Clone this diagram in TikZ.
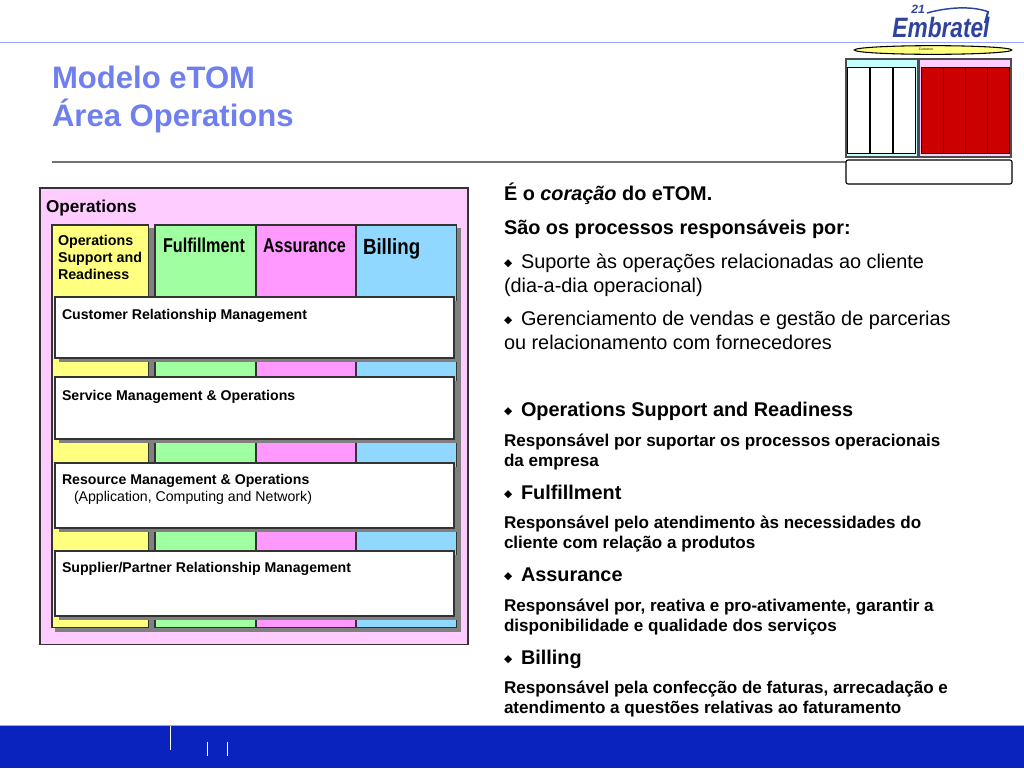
\documentclass[tikz,border=0pt]{standalone}
\usepackage{fontspec}
\setmainfont{Liberation Sans}
\newfontfamily\symfont{DejaVu Sans}
\usepackage{tikz}
\usetikzlibrary{
positioning,
shapes.geometric,
}
\definecolor{titleblue}{HTML}{6F7FEE}
\definecolor{bandblue}{HTML}{0A22BE}
\definecolor{logoblue}{HTML}{2F429F}
\definecolor{areapink}{HTML}{FFCCFF}
\definecolor{colyellow}{HTML}{FFFF80}
\definecolor{colgreen}{HTML}{A0FFA0}
\definecolor{colmagenta}{HTML}{FF99FF}
\definecolor{colblue}{HTML}{90D8FF}
\definecolor{thumbcyan}{HTML}{C4FFFF}
\definecolor{thumbred}{HTML}{CC0000}
\tikzset{
x=0.75pt, y=-0.75pt,
every node/.style={inner sep=0pt, outer sep=0pt},
box/.style={draw=#1, line width=0.8pt, anchor=north west},
box/.default=black!80,
column/.style={box, fill=#1},
bar/.style={box, fill=white, minimum width=299.25pt},
barlabel/.style={anchor=base west, font=\fontsize{10.6}{12}\selectfont\bfseries, align=left},
headlabel/.style={anchor=base west, xscale=0.81, font=\fontsize{15}{18}\selectfont\bfseries},
body/.style={anchor=base west, font=\fontsize{14.9}{17.6}\selectfont, align=left},
bodybold/.style={anchor=base west, font=\fontsize{12.8}{15}\selectfont\bfseries, align=left},
lead/.style={anchor=base west, font=\fontsize{14.9}{17}\selectfont\bfseries},
thumbcol/.style={draw=black, line width=0.7pt, anchor=north west, minimum height=64.5pt, minimum width=16.5pt},
}
\newcommand{\bul}{\makebox[12.75pt][l]{\raisebox{1.5pt}{\symfont\fontsize{8}{8}\selectfont ◆}}}
\begin{document}
\begin{tikzpicture}
\useasboundingbox (0,0) rectangle (1024,768);
% page rules and band
\fill [bandblue] (0,725) rectangle (1024,768);
\draw [color=titleblue!70, line width=0.75pt] (0,725) -- (1024,725);
\draw [color=titleblue!70, line width=0.75pt] (0,42.5) -- (1024,42.5);
\draw [color=black!55, line width=0.8pt] (52,162) -- (846,162);
\draw [white, line width=0.75pt] (170.5,726) -- (170.5,750);
\draw [white, line width=0.75pt] (207.5,742) -- (207.5,756);
\draw [white, line width=0.75pt] (227,742) -- (227,756);
% title
\node (title) [anchor=base west, text=titleblue, font=\fontsize{23.3}{28.5}\selectfont\bfseries, align=left] at (52,126) {Modelo eTOM\\Área Operations};
% logo
\node (logo) [anchor=base, text=logoblue, xscale=0.81, font=\fontsize{21}{21}\selectfont\bfseries\itshape] at (941,37) {Embratel};
\node (logo21) [anchor=base, text=logoblue, font=\fontsize{9}{9}\selectfont\bfseries\itshape] at (918,13) {21};
\draw [logoblue, line width=1.1pt] (927,13) .. controls (945,8) and (970,5) .. (989,12);
\draw [logoblue, line width=1.6pt] (988,12) -- (985,23);
% operations panel
\node (panel) [box, fill=areapink, minimum width=321pt, minimum height=342.5pt] at (40,188) {};
\node (panellabel) [anchor=base west, font=\fontsize{12.9}{14}\selectfont\bfseries] at (46,212) {Operations};
\fill [black!50] (55,228) rectangle (461,632);
\node (osr) [column=colyellow, minimum width=72.5pt, minimum height=302pt] at (52,225) {};
\fill [areapink] (149.6,225) rectangle (154.6,228);
\node (ful) [column=colgreen, minimum width=75.5pt, minimum height=302pt] at (155,225) {};
\node (ass) [column=colmagenta, minimum width=75pt, minimum height=302pt] at (256,225) {};
\node (bil) [column=colblue, minimum width=75.5pt, minimum height=302pt] at (356,225) {};
\node (osrlabel) [anchor=base west, font=\fontsize{10.7}{12.4}\selectfont\bfseries, align=left] at (58,279) {Operations\\Support and\\Readiness};
\node (fullabel) [headlabel] at (163,252) {Fulfillment};
\node (asslabel) [headlabel] at (263,252) {Assurance};
\node (billabel) [headlabel, xscale=1.05, font=\fontsize{16.5}{18}\selectfont\bfseries] at (363,254) {Billing};
% bars
\foreach \name/\ytop/\ybot in {crm/297/358, smo/377/439, rmo/463/528, spr/551/616} {
    \fill [black!50] (59,\ytop+4) rectangle (458,\ybot+4);
    \node (\name) [bar, minimum height={(\ybot-\ytop)*0.75pt}] at (55,\ytop) {};
}
\node (crmlabel) [barlabel] at (62,319) {Customer Relationship Management};
\node (smolabel) [barlabel] at (62,400) {Service Management \& Operations};
\node (rmolabel) [barlabel] at (62,484) {Resource Management \& Operations};
\node (rmosub) [anchor=base west, font=\fontsize{10.6}{12}\selectfont] at (74,501) {(Application, Computing and Network)};
\node (sprlabel) [barlabel] at (62,572) {Supplier/Partner Relationship Management};
% thumbnail
\node (thumbtop) [draw=black, line width=0.8pt, fill=colyellow, ellipse, minimum width=118pt, minimum height=6.5pt] at (933,50) {};
\node (thumbtext) [font=\fontsize{2.5}{3}\selectfont] at (926,49.5) {Customer};
\node (thumbleft) [box=black!70, line width=1pt, fill=thumbcyan, minimum width=53.5pt, minimum height=73.5pt] at (846,59) {};
\node (thumbright) [box=black!70, line width=1pt, fill=areapink, minimum width=69pt, minimum height=73.5pt] at (919,59) {};
\foreach \x/\name in {847/a, 870/b, 893/c} {
    \node (white\name) [thumbcol, fill=white] at (\x,67) {};
}
\foreach \x/\name in {921/a, 943.5/b, 965.5/c, 987/d} {
    \node (red\name) [thumbcol, fill=thumbred] at (\x,67) {};
}
\node (thumbbottom) [draw=black, line width=0.8pt, fill=white, rounded corners=1.5pt, anchor=north west, minimum width=124.5pt, minimum height=18pt] at (846,160) {};
% right text
\node (t1) [lead] at (504,200.5) {É o \textit{coração} do eTOM.};
\node (t2) [lead] at (504,234.5) {São os processos responsáveis por:};
\node (t3) [body] at (504,292) {\bul Suporte às operações relacionadas ao cliente\\(dia-a-dia operacional)};
\node (t4) [body] at (504,349) {\bul Gerenciamento de vendas e gestão de parcerias\\ou relacionamento com fornecedores};
\node (t5) [lead] at (504,416) {\bul Operations Support and Readiness};
\node (t6) [bodybold] at (504,466) {Responsável por suportar os processos operacionais\\da empresa};
\node (t7) [lead] at (504,499) {\bul Fulfillment};
\node (t8) [bodybold] at (504,548) {Responsável pelo atendimento às necessidades do\\cliente com relação a produtos};
\node (t9) [lead] at (504,581) {\bul Assurance};
\node (t10) [bodybold] at (504,631) {Responsável por, reativa e pro-ativamente, garantir a\\disponibilidade e qualidade dos serviços};
\node (t11) [lead] at (504,664) {\bul Billing};
\node (t12) [bodybold] at (504,713) {Responsável pela confecção de faturas, arrecadação e\\atendimento a questões relativas ao faturamento};
\end{tikzpicture}
\end{document}
